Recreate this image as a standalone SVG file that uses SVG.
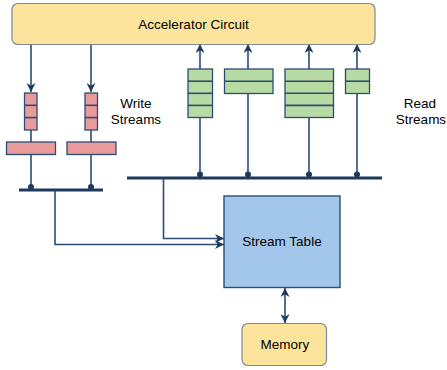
<svg xmlns="http://www.w3.org/2000/svg" width="447" height="370" viewBox="0 0 447 370">
<style>
  text { font-family: "Liberation Sans", Arial, sans-serif; font-size: 13.5px; fill: #000; }
  .ln { stroke: #2b4d73; stroke-width: 1.6; fill: none; }
  .bus { stroke: #1d3a5c; stroke-width: 3; }
  .dot { fill: #1d3a5c; }
  .pink { fill: #e99a9a; stroke: #2b4d73; stroke-width: 1.3; }
  .green { fill: #b8dba6; stroke: #2b4d73; stroke-width: 1.3; }
  .yellow { fill: #fde49c; stroke: #7d8a9c; stroke-width: 1.2; }
  .blue { fill: #a3c7ea; stroke: #2b4d73; stroke-width: 1.4; }
</style>
<defs>
  <marker id="ah" viewBox="0 0 10 10" refX="10" refY="5" markerWidth="9" markerHeight="9" markerUnits="userSpaceOnUse" orient="auto-start-reverse">
    <path d="M0,0 L10,5 L0,10 L3,5 Z" fill="#1d3a5c"/>
  </marker>
</defs>
<rect width="447" height="370" fill="#ffffff"/>

<g id="connectors">
  <line class="ln" x1="31" y1="45" x2="31" y2="92" marker-end="url(#ah)"/>
  <line class="ln" x1="91" y1="45" x2="91" y2="92" marker-end="url(#ah)"/>
  <line class="ln" x1="31" y1="130" x2="31" y2="142"/>
  <line class="ln" x1="91" y1="130" x2="91" y2="142"/>
  <line class="ln" x1="31" y1="154" x2="31" y2="188"/>
  <line class="ln" x1="91" y1="154" x2="91" y2="188"/>
  <line class="bus" x1="19" y1="190" x2="103" y2="190"/>
  <circle class="dot" cx="31" cy="187" r="3"/>
  <circle class="dot" cx="91" cy="187" r="3"/>

  <line class="ln" x1="200" y1="69" x2="200" y2="44" marker-end="url(#ah)"/>
  <line class="ln" x1="248" y1="69" x2="248" y2="44" marker-end="url(#ah)"/>
  <line class="ln" x1="309" y1="69" x2="309" y2="44" marker-end="url(#ah)"/>
  <line class="ln" x1="357" y1="69" x2="357" y2="44" marker-end="url(#ah)"/>
  <line class="ln" x1="200" y1="118" x2="200" y2="176"/>
  <line class="ln" x1="248" y1="94" x2="248" y2="176"/>
  <line class="ln" x1="309" y1="118" x2="309" y2="176"/>
  <line class="ln" x1="357" y1="94" x2="357" y2="176"/>
  <line class="bus" x1="127" y1="178" x2="382" y2="178"/>
  <circle class="dot" cx="200" cy="174.5" r="3"/>
  <circle class="dot" cx="248" cy="174.5" r="3"/>
  <circle class="dot" cx="309" cy="174.5" r="3"/>
  <circle class="dot" cx="357" cy="174.5" r="3"/>

  <polyline class="ln" points="163.5,178 163.5,238.5 224,238.5" marker-end="url(#ah)"/>
  <polyline class="ln" points="55,190 55,244.5 224,244.5" marker-end="url(#ah)"/>
  <line class="ln" x1="285" y1="288" x2="285" y2="323" marker-start="url(#ah)" marker-end="url(#ah)"/>
</g>

<g id="accelerator">
  <rect class="yellow" x="12" y="3.5" width="363" height="41" rx="6"/>
  <text x="193.5" y="28.5" text-anchor="middle">Accelerator Circuit</text>
</g>

<g id="write-stream-1">
  <rect class="pink" x="24.5" y="93" width="12.5" height="37"/>
  <line class="ln" x1="24.5" y1="105.3" x2="37" y2="105.3" stroke-width="1.3"/>
  <line class="ln" x1="24.5" y1="117.6" x2="37" y2="117.6" stroke-width="1.3"/>
  <rect class="pink" x="6.5" y="142" width="49" height="12.5"/>
</g>
<g id="write-stream-2">
  <rect class="pink" x="85" y="93" width="12.5" height="37"/>
  <line class="ln" x1="85" y1="105.3" x2="97.5" y2="105.3" stroke-width="1.3"/>
  <line class="ln" x1="85" y1="117.6" x2="97.5" y2="117.6" stroke-width="1.3"/>
  <rect class="pink" x="67" y="142" width="49" height="12.5"/>
</g>

<g id="write-label">
  <text x="136" y="108" text-anchor="middle">Write</text>
  <text x="136" y="124" text-anchor="middle">Streams</text>
</g>

<g id="read-stream-1">
  <rect class="green" x="188" y="69" width="24.5" height="48.5"/>
  <line class="ln" x1="188" y1="81.2" x2="212.5" y2="81.2" stroke-width="1.3"/>
  <line class="ln" x1="188" y1="93.3" x2="212.5" y2="93.3" stroke-width="1.3"/>
  <line class="ln" x1="188" y1="105.4" x2="212.5" y2="105.4" stroke-width="1.3"/>
</g>
<g id="read-stream-2">
  <rect class="green" x="224.5" y="69" width="48.5" height="24.5"/>
  <line class="ln" x1="224.5" y1="81.2" x2="273" y2="81.2" stroke-width="1.3"/>
</g>
<g id="read-stream-3">
  <rect class="green" x="285" y="69" width="48.5" height="48.5"/>
  <line class="ln" x1="285" y1="81.2" x2="333.5" y2="81.2" stroke-width="1.3"/>
  <line class="ln" x1="285" y1="93.3" x2="333.5" y2="93.3" stroke-width="1.3"/>
  <line class="ln" x1="285" y1="105.4" x2="333.5" y2="105.4" stroke-width="1.3"/>
</g>
<g id="read-stream-4">
  <rect class="green" x="345.5" y="69" width="24" height="24.5"/>
  <line class="ln" x1="345.5" y1="81.2" x2="369.5" y2="81.2" stroke-width="1.3"/>
</g>

<g id="read-label">
  <text x="420" y="108" text-anchor="middle">Read</text>
  <text x="421" y="124" text-anchor="middle">Streams</text>
</g>

<g id="stream-table">
  <rect class="blue" x="224" y="196" width="116" height="91.5"/>
  <text x="282" y="246" text-anchor="middle">Stream Table</text>
</g>

<g id="memory">
  <rect class="yellow" x="242" y="323.5" width="84.5" height="42" rx="6"/>
  <text x="285" y="349" text-anchor="middle">Memory</text>
</g>
</svg>
